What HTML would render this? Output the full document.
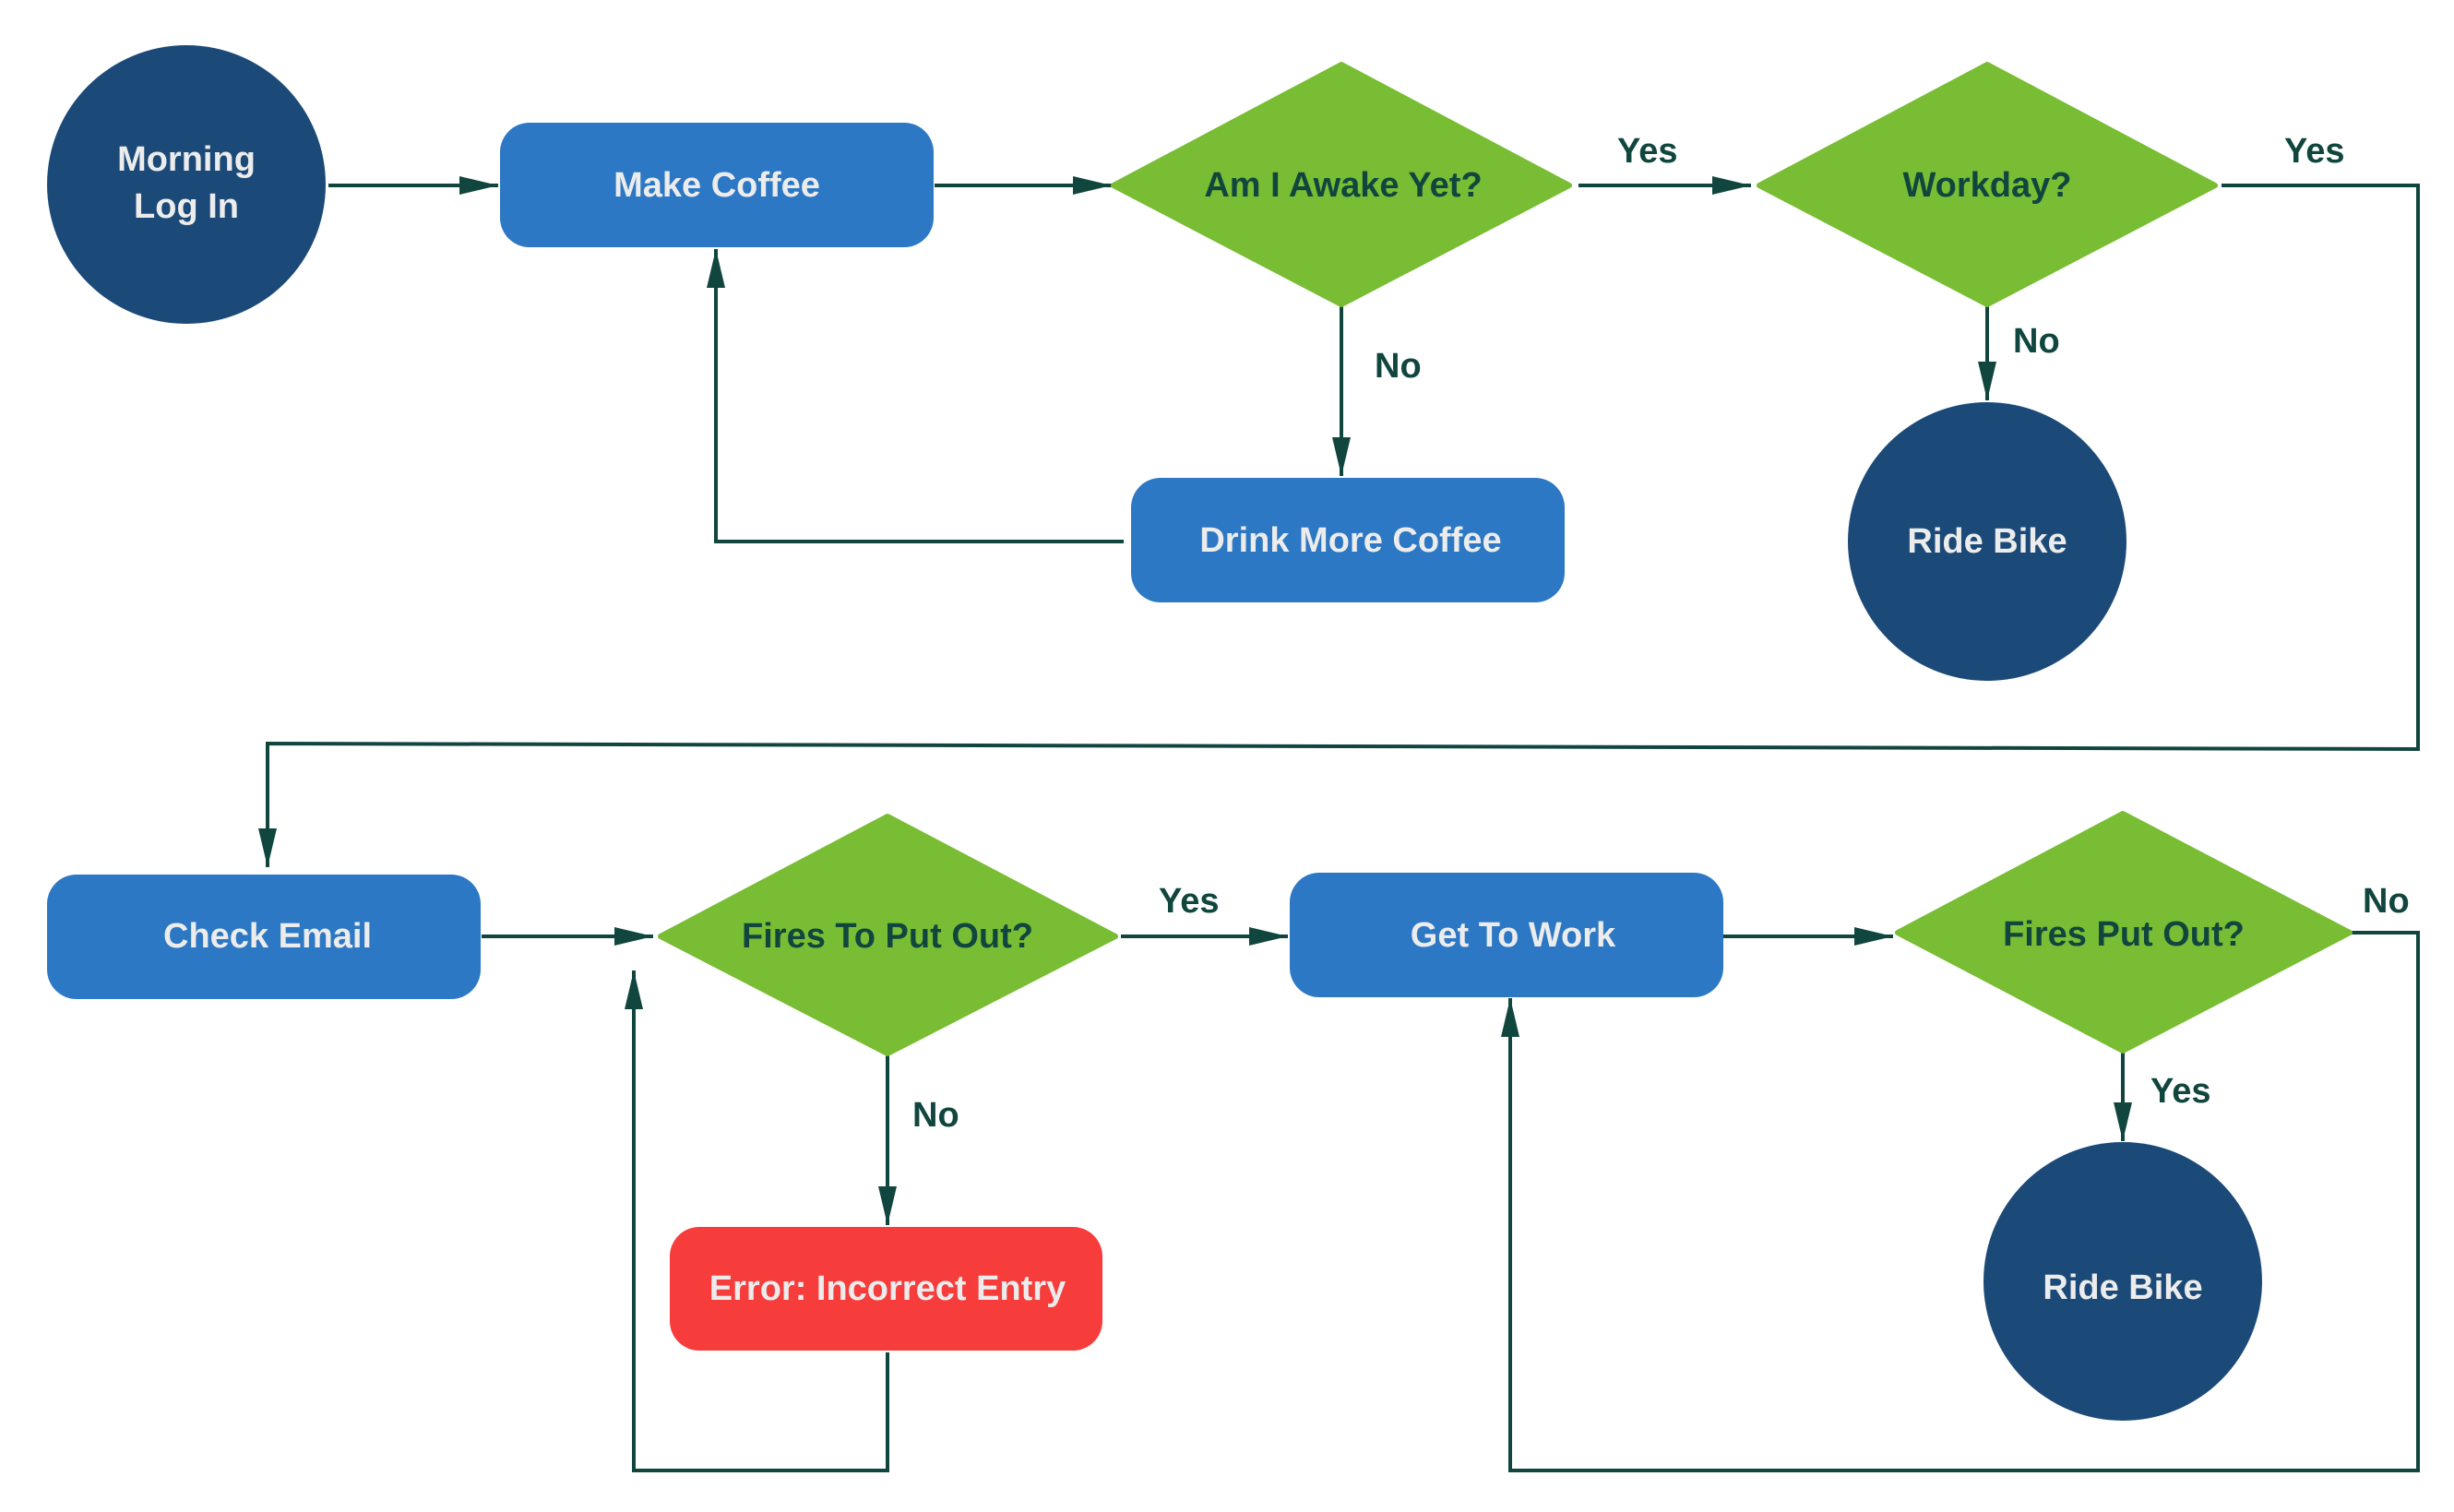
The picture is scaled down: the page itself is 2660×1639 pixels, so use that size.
<!DOCTYPE html>
<html><head><meta charset="utf-8"><style>
html,body{margin:0;padding:0;background:#fff;}
svg{display:block;}
text{font-family:"Liberation Sans",sans-serif;font-weight:bold;font-size:38px;}
.w{fill:#ececec;text-anchor:middle;dominant-baseline:central;}
.d{fill:#11463f;text-anchor:middle;dominant-baseline:central;}
.l{fill:#11463f;dominant-baseline:central;}
.c{fill:none;stroke:#11463f;stroke-width:4;}
</style></head><body>
<svg width="2660" height="1639" viewBox="0 0 2660 1639" xmlns="http://www.w3.org/2000/svg">
<defs>
<marker id="a" markerUnits="userSpaceOnUse" markerWidth="44" markerHeight="24" refX="42" refY="12" orient="auto">
<path d="M0,2 L42,12 L0,22 Z" fill="#11463f"/>
</marker>
</defs>
<!-- connectors -->
<path class="c" d="M356,201 H540" marker-end="url(#a)"/>
<path class="c" d="M1013,201 H1205" marker-end="url(#a)"/>
<path class="c" d="M1711,201 H1898" marker-end="url(#a)"/>
<path class="c" d="M2408,201 H2621 V812 L290,806 V940" marker-end="url(#a)"/>
<path class="c" d="M1454,331 V516" marker-end="url(#a)"/>
<path class="c" d="M1218,587 H776 V270" marker-end="url(#a)"/>
<path class="c" d="M2154,331 V434" marker-end="url(#a)"/>
<path class="c" d="M522,1015 H708" marker-end="url(#a)"/>
<path class="c" d="M1215,1015 H1396" marker-end="url(#a)"/>
<path class="c" d="M962,1144 V1328" marker-end="url(#a)"/>
<path class="c" d="M962,1466 V1594 H687 V1052" marker-end="url(#a)"/>
<path class="c" d="M1866,1015 H2052" marker-end="url(#a)"/>
<path class="c" d="M2549,1011 H2621 V1594 H1637 V1082" marker-end="url(#a)"/>
<path class="c" d="M2301,1140 V1237" marker-end="url(#a)"/>
<!-- nodes -->
<circle cx="202" cy="200" r="151" fill="#1c4a78"/>
<text class="w" x="202" y="173">Morning</text>
<text class="w" x="202" y="224">Log In</text>
<rect x="542" y="133" width="470" height="135" rx="32" fill="#2d78c4"/>
<text class="w" x="777" y="201">Make Coffee</text>
<polygon points="1207,201 1454,70 1701,201 1454,330" fill="#78bd33" stroke="#78bd33" stroke-width="6" stroke-linejoin="round"/>
<text class="d" x="1456" y="201">Am I Awake Yet?</text>
<polygon points="1907,201 2154,70 2401,201 2154,330" fill="#78bd33" stroke="#78bd33" stroke-width="6" stroke-linejoin="round"/>
<text class="d" x="2154" y="201">Workday?</text>
<rect x="1226" y="518" width="470" height="135" rx="32" fill="#2d78c4"/>
<text class="w" x="1464" y="586">Drink More Coffee</text>
<circle cx="2154" cy="587" r="151" fill="#1c4a78"/>
<text class="w" x="2154" y="587">Ride Bike</text>
<rect x="51" y="948" width="470" height="135" rx="32" fill="#2d78c4"/>
<text class="w" x="290" y="1015">Check Email</text>
<polygon points="716,1015 962,885 1209,1015 962,1142" fill="#78bd33" stroke="#78bd33" stroke-width="6" stroke-linejoin="round"/>
<text class="d" x="962" y="1015">Fires To Put Out?</text>
<rect x="1398" y="946" width="470" height="135" rx="32" fill="#2d78c4"/>
<text class="w" x="1640" y="1014">Get To Work</text>
<polygon points="2057,1011 2301,882 2547,1011 2301,1139" fill="#78bd33" stroke="#78bd33" stroke-width="6" stroke-linejoin="round"/>
<text class="d" x="2302" y="1013">Fires Put Out?</text>
<circle cx="2301" cy="1389" r="151" fill="#1c4a78"/>
<text class="w" x="2301" y="1396">Ride Bike</text>
<rect x="726" y="1330" width="469" height="134" rx="32" fill="#f73c3c"/>
<text class="w" x="962" y="1397">Error: Incorrect Entry</text>
<!-- labels -->
<text class="l" x="1753" y="164">Yes</text>
<text class="l" x="2476" y="164">Yes</text>
<text class="l" x="1490" y="397">No</text>
<text class="l" x="2182" y="370">No</text>
<text class="l" x="1256" y="977">Yes</text>
<text class="l" x="989" y="1209">No</text>
<text class="l" x="2561" y="977">No</text>
<text class="l" x="2331" y="1183">Yes</text>
</svg>
</body></html>
